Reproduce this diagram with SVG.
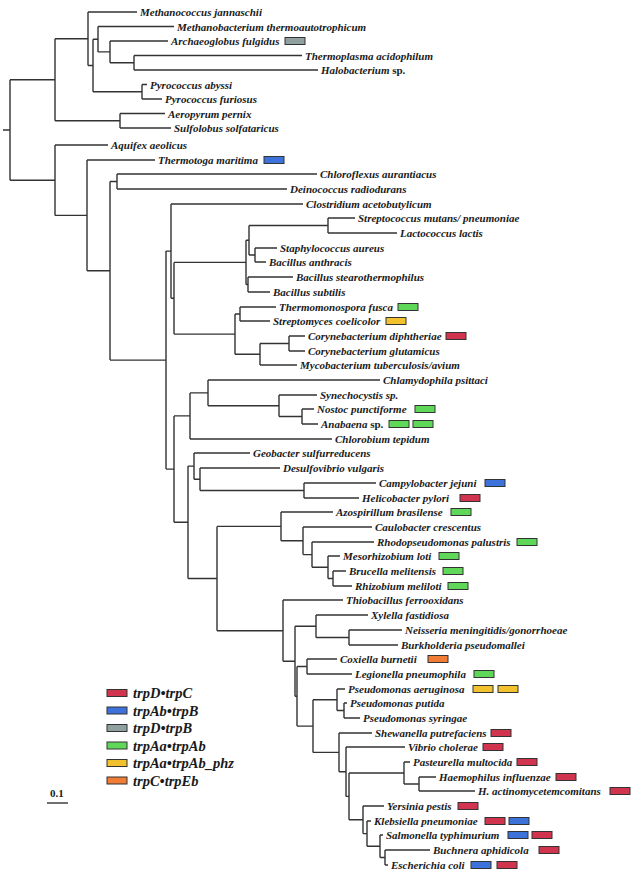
<svg xmlns="http://www.w3.org/2000/svg" width="636" height="876" viewBox="0 0 636 876">
<style>
.br{fill:none;stroke:#333;stroke-width:1.4}
text{font-family:"Liberation Serif","Times New Roman",serif;font-weight:bold;font-style:italic;font-size:11px;fill:#1a1a1a}
.up{font-style:normal}
.bx{stroke:#333;stroke-width:1}
.rd{fill:#d0344e}.bl{fill:#3d72da}.gy{fill:#8fa09e}.gn{fill:#5fd85a}.yl{fill:#f2c22e}.or{fill:#f07c36}
.lg{font-size:14.5px}
.sc{font-style:normal;font-size:11px}
</style>
<rect width="636" height="876" fill="#fff"/>
<g id="connectors" class="br">
<path d="M3,130H10M10,79.8V180.2M10,79.8H55M10,180.2H55"/>
<path d="M55,38.8V120.8M55,38.8H88M55,120.8H120"/>
<path d="M88,12V65.5M88,12H137M88,65.5H93"/>
<path d="M93,39.2V91.8M93,39.2H98M93,91.8H142"/>
<path d="M98,26.5V51.9M98,26.5H174M98,51.9H110"/>
<path d="M110,41V62.8M110,41H168M110,62.8H134"/>
<path d="M134,55.5V70M134,55.5H302M134,70H318"/>
<path d="M142,84.5V99M142,84.5H147M142,99H162"/>
<path d="M120,113.5V128M120,113.5H165M120,128H171"/>
<path d="M55,145V215.4M55,145H108M55,215.4H87"/>
<path d="M87,160V270.8M87,160H155M87,270.8H110"/>
<path d="M110,181.5V360.1M110,181.5H117M110,360.1H166"/>
<path d="M117,174V189M117,174H317M117,189H287"/>
<path d="M166,251.1V469.1M166,251.1H171M166,469.1H174"/>
<path d="M171,204V298.3M171,204H303M171,298.3H174"/>
<path d="M174,262.4V334.1M174,262.4H246M174,334.1H235"/>
<path d="M246,240.3V284.5M246,240.3H249M246,284.5H248"/>
<path d="M249,225.5V255M249,225.5H328M249,255H255"/>
<path d="M328,218V233M328,218H355M328,233H397"/>
<path d="M255,248V262M255,248H277M255,262H266"/>
<path d="M248,277V292M248,277H293M248,292H270"/>
<path d="M235,314V354.3M235,314H240M235,354.3H260"/>
<path d="M240,307V321M240,307H276M240,321H270"/>
<path d="M260,343.5V365M260,343.5H289M260,365H297"/>
<path d="M289,336V351M289,336H305M289,351H305"/>
<path d="M174,415.9V522.3M174,415.9H190M174,522.3H188"/>
<path d="M190,392.9V439M190,392.9H208M190,439H332"/>
<path d="M208,380V405.8M208,380H380M208,405.8H279"/>
<path d="M279,395V416.5M279,395H317M279,416.5H302"/>
<path d="M302,409V424M302,409H314M302,424H318"/>
<path d="M188,466.1V578.5M188,466.1H194M188,578.5H217"/>
<path d="M194,453V479.3M194,453H250M194,479.3H200"/>
<path d="M200,468V490.5M200,468H280M200,490.5H304"/>
<path d="M304,483V498M304,483H376M304,498H359"/>
<path d="M217,526.4V630.7M217,526.4H281M217,630.7H283"/>
<path d="M281,512V540.8M281,512H333M281,540.8H303"/>
<path d="M303,527V554.6M303,527H372M303,554.6H312"/>
<path d="M312,542V567.3M312,542H374M312,567.3H328"/>
<path d="M328,556V578.5M328,556H340M328,578.5H333"/>
<path d="M333,571V586M333,571H346M333,586H352"/>
<path d="M283,600V661.3M283,600H343M283,661.3H295"/>
<path d="M295,626.3V696.3M295,626.3H316M295,696.3H297"/>
<path d="M316,615V637.5M316,615H368M316,637.5H349"/>
<path d="M349,630V645M349,630H402M349,645H398"/>
<path d="M297,666.5V726.1M297,666.5H307M297,726.1H313"/>
<path d="M307,659V674M307,659H337M307,674H352"/>
<path d="M313,699.8V752.4M313,699.8H337M313,752.4H339"/>
<path d="M337,689V710.5M337,689H345M337,710.5H344"/>
<path d="M344,703V718M344,703H347M344,718H360"/>
<path d="M339,733V771.7M339,733H372M339,771.7H346"/>
<path d="M346,747V796.4M346,747H405M346,796.4H349"/>
<path d="M349,773V819.8M349,773H404M349,819.8H363"/>
<path d="M404,762V784M404,762H410M404,784H419"/>
<path d="M419,777V791M419,777H436M419,791H475"/>
<path d="M363,806V833.6M363,806H384M363,833.6H367"/>
<path d="M367,821V846.3M367,821H371M367,846.3H380"/>
<path d="M380,835V857.5M380,835H383M380,857.5H385"/>
<path d="M385,850V865M385,850H430M385,865H388"/>
</g>
<g id="leaf-01"><text x="140" y="16">Methanococcus jannaschii</text></g>
<g id="leaf-02"><text x="177" y="30.5">Methanobacterium thermoautotrophicum</text></g>
<g id="leaf-03"><text x="171" y="45">Archaeoglobus fulgidus</text><rect class="bx gy" x="285" y="37.5" width="20" height="7"/></g>
<g id="leaf-04"><text x="305" y="59.5">Thermoplasma acidophilum</text></g>
<g id="leaf-05"><text x="321" y="74">Halobacterium<tspan class="up"> sp.</tspan></text></g>
<g id="leaf-06"><text x="150" y="88.5">Pyrococcus abyssi</text></g>
<g id="leaf-07"><text x="165" y="103">Pyrococcus furiosus</text></g>
<g id="leaf-08"><text x="168" y="117.5">Aeropyrum pernix</text></g>
<g id="leaf-09"><text x="174" y="132">Sulfolobus solfataricus</text></g>
<g id="leaf-10"><text x="111" y="149">Aquifex aeolicus</text></g>
<g id="leaf-11"><text x="158" y="164">Thermotoga maritima</text><rect class="bx bl" x="264" y="156.5" width="20" height="7"/></g>
<g id="leaf-12"><text x="320" y="178">Chloroflexus aurantiacus</text></g>
<g id="leaf-13"><text x="290" y="193">Deinococcus radiodurans</text></g>
<g id="leaf-14"><text x="306" y="208">Clostridium acetobutylicum</text></g>
<g id="leaf-15"><text x="358" y="222">Streptococcus mutans/ pneumoniae</text></g>
<g id="leaf-16"><text x="400" y="237">Lactococcus lactis</text></g>
<g id="leaf-17"><text x="280" y="252">Staphylococcus aureus</text></g>
<g id="leaf-18"><text x="269" y="266">Bacillus anthracis</text></g>
<g id="leaf-19"><text x="296" y="281">Bacillus stearothermophilus</text></g>
<g id="leaf-20"><text x="273" y="296">Bacillus subtilis</text></g>
<g id="leaf-21"><text x="279" y="311">Thermomonospora fusca</text><rect class="bx gn" x="398" y="303.5" width="20" height="7"/></g>
<g id="leaf-22"><text x="273" y="325">Streptomyces coelicolor</text><rect class="bx yl" x="386" y="317.5" width="20" height="7"/></g>
<g id="leaf-23"><text x="308" y="340">Corynebacterium diphtheriae</text><rect class="bx rd" x="446" y="332.5" width="20" height="7"/></g>
<g id="leaf-24"><text x="308" y="355">Corynebacterium glutamicus</text></g>
<g id="leaf-25"><text x="300" y="369">Mycobacterium tuberculosis/avium</text></g>
<g id="leaf-26"><text x="383" y="384">Chlamydophila psittaci</text></g>
<g id="leaf-27"><text x="320" y="399">Synechocystis sp.</text></g>
<g id="leaf-28"><text x="317" y="413">Nostoc punctiforme</text><rect class="bx gn" x="415" y="405.5" width="20" height="7"/></g>
<g id="leaf-29"><text x="321" y="428">Anabaena<tspan class="up"> sp.</tspan></text><rect class="bx gn" x="389" y="420.5" width="20" height="7"/><rect class="bx gn" x="413" y="420.5" width="20" height="7"/></g>
<g id="leaf-30"><text x="335" y="443">Chlorobium tepidum</text></g>
<g id="leaf-31"><text x="253" y="457">Geobacter sulfurreducens</text></g>
<g id="leaf-32"><text x="283" y="472">Desulfovibrio vulgaris</text></g>
<g id="leaf-33"><text x="379" y="487">Campylobacter jejuni</text><rect class="bx bl" x="485" y="479.5" width="20" height="7"/></g>
<g id="leaf-34"><text x="362" y="502">Helicobacter pylori</text><rect class="bx rd" x="460" y="494.5" width="20" height="7"/></g>
<g id="leaf-35"><text x="336" y="516">Azospirillum brasilense</text><rect class="bx gn" x="451" y="508.5" width="20" height="7"/></g>
<g id="leaf-36"><text x="375" y="531">Caulobacter crescentus</text></g>
<g id="leaf-37"><text x="377" y="546">Rhodopseudomonas palustris</text><rect class="bx gn" x="517" y="538.5" width="20" height="7"/></g>
<g id="leaf-38"><text x="343" y="560">Mesorhizobium loti</text><rect class="bx gn" x="439" y="552.5" width="20" height="7"/></g>
<g id="leaf-39"><text x="349" y="575">Brucella melitensis</text><rect class="bx gn" x="443" y="567.5" width="20" height="7"/></g>
<g id="leaf-40"><text x="355" y="590">Rhizobium meliloti</text><rect class="bx gn" x="448" y="582.5" width="20" height="7"/></g>
<g id="leaf-41"><text x="346" y="604">Thiobacillus ferrooxidans</text></g>
<g id="leaf-42"><text x="371" y="619">Xylella fastidiosa</text></g>
<g id="leaf-43"><text x="405" y="634">Neisseria meningitidis/gonorrhoeae</text></g>
<g id="leaf-44"><text x="401" y="649">Burkholderia pseudomallei</text></g>
<g id="leaf-45"><text x="340" y="663">Coxiella burnetii</text><rect class="bx or" x="428" y="655.5" width="20" height="7"/></g>
<g id="leaf-46"><text x="355" y="678">Legionella pneumophila</text><rect class="bx gn" x="474" y="670.5" width="20" height="7"/></g>
<g id="leaf-47"><text x="348" y="693">Pseudomonas aeruginosa</text><rect class="bx yl" x="473" y="685.5" width="20" height="7"/><rect class="bx yl" x="498" y="685.5" width="20" height="7"/></g>
<g id="leaf-48"><text x="350" y="707">Pseudomonas putida</text></g>
<g id="leaf-49"><text x="363" y="722">Pseudomonas syringae</text></g>
<g id="leaf-50"><text x="375" y="737">Shewanella putrefaciens</text><rect class="bx rd" x="491" y="729.5" width="20" height="7"/></g>
<g id="leaf-51"><text x="408" y="751">Vibrio cholerae</text><rect class="bx rd" x="483" y="743.5" width="20" height="7"/></g>
<g id="leaf-52"><text x="413" y="766">Pasteurella multocida</text><rect class="bx rd" x="517" y="758.5" width="20" height="7"/></g>
<g id="leaf-53"><text x="439" y="781">Haemophilus influenzae</text><rect class="bx rd" x="556" y="773.5" width="20" height="7"/></g>
<g id="leaf-54"><text x="478" y="795">H. actinomycetemcomitans</text><rect class="bx rd" x="610" y="787.5" width="20" height="7"/></g>
<g id="leaf-55"><text x="387" y="810">Yersinia pestis</text><rect class="bx rd" x="458" y="802.5" width="20" height="7"/></g>
<g id="leaf-56"><text x="374" y="825">Klebsiella pneumoniae</text><rect class="bx rd" x="485" y="817.5" width="20" height="7"/><rect class="bx bl" x="509" y="817.5" width="20" height="7"/></g>
<g id="leaf-57"><text x="386" y="839">Salmonella typhimurium</text><rect class="bx bl" x="508" y="831.5" width="20" height="7"/><rect class="bx rd" x="532" y="831.5" width="20" height="7"/></g>
<g id="leaf-58"><text x="433" y="854">Buchnera aphidicola</text><rect class="bx rd" x="539" y="846.5" width="20" height="7"/></g>
<g id="leaf-59"><text x="391" y="869">Escherichia coli</text><rect class="bx bl" x="471" y="861.5" width="20" height="7"/><rect class="bx rd" x="497" y="861.5" width="20" height="7"/></g>
<g id="legend">
<rect class="bx rd" x="107" y="689.5" width="20" height="7"/><text class="lg" x="133" y="698">trpD•trpC</text>
<rect class="bx bl" x="107" y="707" width="20" height="7"/><text class="lg" x="133" y="715.5">trpAb•trpB</text>
<rect class="bx gy" x="107" y="724.5" width="20" height="7"/><text class="lg" x="133" y="733">trpD•trpB</text>
<rect class="bx gn" x="107" y="742" width="20" height="7"/><text class="lg" x="133" y="750.5">trpAa•trpAb</text>
<rect class="bx yl" x="107" y="759.5" width="20" height="7"/><text class="lg" x="133" y="768">trpAa•trpAb_phz</text>
<rect class="bx or" x="107" y="777" width="20" height="7"/><text class="lg" x="133" y="785.5">trpC•trpEb</text>
</g>
<g id="scale-bar">
<text class="sc" x="50" y="797">0.1</text>
<path class="br" d="M47,803H68"/>
</g>
</svg>
